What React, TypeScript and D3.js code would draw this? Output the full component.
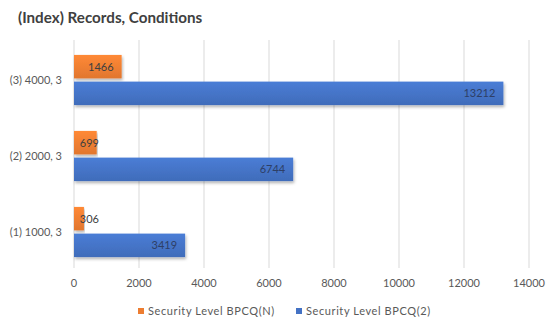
import React from 'react';
import * as d3 from 'd3';

const categories = ['(3) 4000, 3', '(2) 2000, 3', '(1) 1000, 3'];
const seriesNames = ['Security Level BPCQ(N)', 'Security Level BPCQ(2)'];
const valuesN = [1466, 699, 306];
const values2 = [13212, 6744, 3419];
const xTicks = [0, 2000, 4000, 6000, 8000, 10000, 12000, 14000];

const colors = ['#ED7D31', '#4472C4'];
const font = 'Lato, "Open Sans", sans-serif';

const W = 550;
const H = 327;

export default function App() {
    const x = d3.scaleLinear().domain([0, 14000]).range([74, 529]);
    const y = d3.scaleBand<string>().domain(categories).range([42, 270]).paddingInner(0.34).paddingOuter(0.17);
    const sub = d3.scaleBand<number>().domain([0, 1]).range([0, y.bandwidth()]).paddingInner(0.12);
    const series = [valuesN, values2];

    return (
        <svg width={W} height={H} style={{ position: 'absolute', left: 0, top: 0, background: '#fff' }}>
            <defs>
                <filter id="shadow" x="-5%" y="-20%" width="110%" height="160%">
                    <feDropShadow dx="1" dy="2" stdDeviation="1.5" floodColor="#000" floodOpacity="0.3" />
                </filter>
                {colors.map((c, i) => (
                    <linearGradient key={i} id={`grad${i}`} x1="0" y1="0" x2="0" y2="1">
                        <stop offset="0%" stopColor={d3.color(c)!.brighter(0.25).formatHex()} />
                        <stop offset="100%" stopColor={d3.color(c)!.darker(0.15).formatHex()} />
                    </linearGradient>
                ))}
            </defs>

            <text x={18} y={23} fontFamily={font} fontWeight="bold" fontSize={15.2} fill="#404040">
                (Index) Records, Conditions
            </text>

            {/* gridlines */}
            {xTicks.map(t => (
                <line key={t} x1={x(t)} x2={x(t)} y1={40} y2={268} stroke="#d9d9d9" strokeWidth={1} />
            ))}

            {/* bars */}
            {categories.map((cat, ci) => (
                <g key={cat}>
                    {series.map((vals, si) => {
                        const y0 = (y(cat) ?? 0) + (sub(si) ?? 0);
                        const h = sub.bandwidth();
                        const xe = x(vals[ci]);
                        return (
                            <g key={si}>
                                <rect x={x(0)} y={y0} width={xe - x(0)} height={h}
                                    fill={`url(#grad${si})`} filter="url(#shadow)" />
                                <text x={Math.max(xe - 8, x(0) + 25)} y={y0 + h / 2} dy="0.35em"
                                    textAnchor="end" fontFamily={font} fontSize={11}
                                    fill={si === 0 ? '#404040' : '#2e3f66'}>
                                    {vals[ci]}
                                </text>
                            </g>
                        );
                    })}
                    <text x={62} y={(y(cat) ?? 0) + y.bandwidth() / 2} dy="0.35em" textAnchor="end"
                        fontFamily={font} fontSize={11} fill="#595959">
                        {cat}
                    </text>
                </g>
            ))}

            {/* x tick labels */}
            {xTicks.map(t => (
                <text key={t} x={x(t)} y={283} dy="0.35em" textAnchor="middle"
                    fontFamily={font} fontSize={11} fill="#595959">
                    {t}
                </text>
            ))}

            {/* legend */}
            {seriesNames.map((name, i) => {
                const lx = i === 0 ? 138 : 296;
                return (
                    <g key={name}>
                        <rect x={lx} y={308} width={6} height={6} fill={colors[i]} />
                        <text x={lx + 10} y={311} dy="0.35em" fontFamily={font} fontSize={11}
                            fill="#595959" letterSpacing={0.6}>
                            {name}
                        </text>
                    </g>
                );
            })}
        </svg>
    );
}
